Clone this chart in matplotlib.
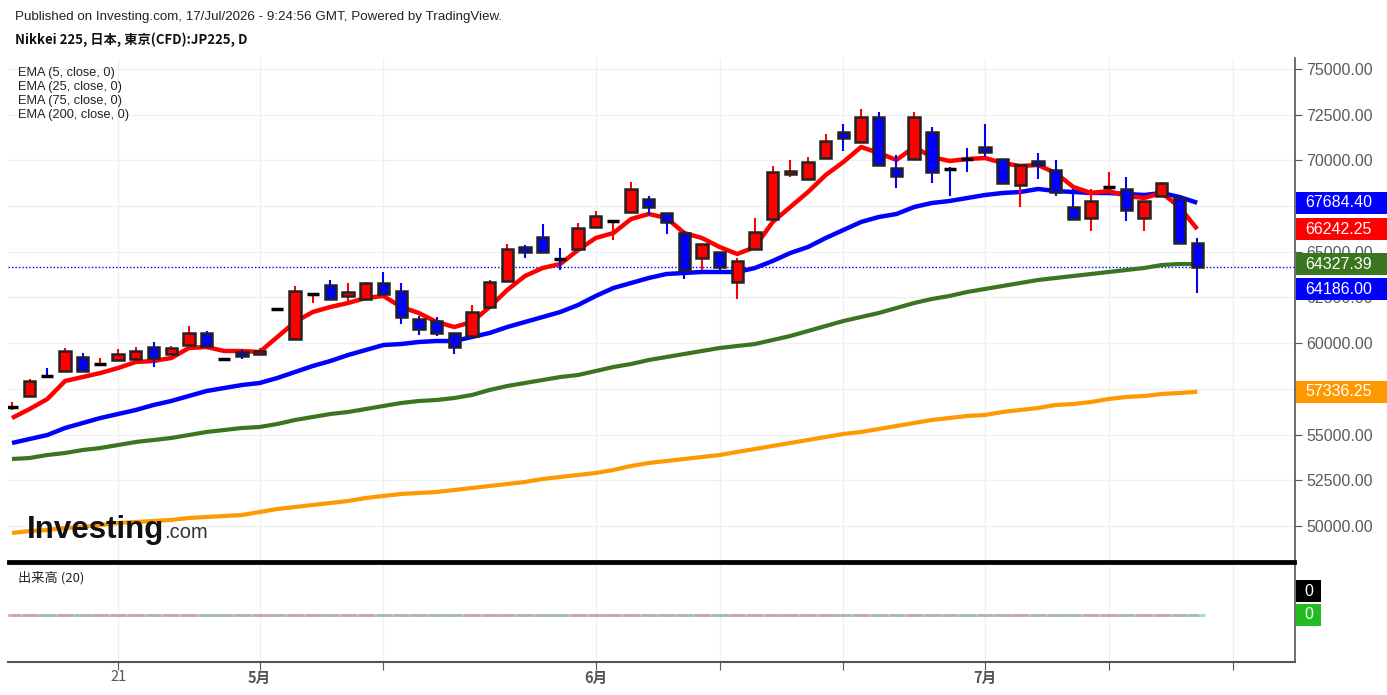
import matplotlib.pyplot as plt
import matplotlib.transforms as mtransforms
from matplotlib.patches import Rectangle

# daily OHLC (Nikkei 225 CFD, mid Apr - mid Jul)
opens = [56495, 57112, 58220, 58479, 59245, 58850, 59081, 59136, 59792, 59409,
         59902, 60558, 59140, 59518, 59409, 61880, 60230, 62680, 63185, 62582,
         62418, 63294, 62856, 61324, 61214, 60558, 60394, 61980, 63404, 65263,
         65810, 64620, 65154, 66357, 66675, 67177, 67889, 67123, 66029, 64661,
         64990, 63349, 65154, 66794, 69256, 68982, 70131, 71553, 71006, 72374,
         69584, 70077, 71553, 69540, 70085, 70733, 70077, 68655, 69967, 69475,
         67444, 66849, 68535, 68436, 66849, 68053, 67943, 65482]
highs = [56784, 58042, 58643, 59737, 59464, 59190, 59683, 59792, 60066, 59847,
         60941, 60668, 59160, 59628, 59737, 61925, 63130, 62746, 63458, 63294,
         63349, 63895, 63294, 61488, 61433, 60575, 62090, 63458, 65427, 65373,
         66521, 65208, 66576, 67232, 66710, 68818, 68053, 67135, 66138, 65440,
         65000, 64661, 66849, 69693, 70022, 70186, 71444, 71991, 72812, 72648,
         70295, 72648, 71827, 69639, 70678, 71991, 70090, 69760, 70405, 70022,
         68436, 68436, 69365, 69092, 67790, 68818, 68107, 65756]
lows = [56346, 57057, 58151, 58470, 58465, 58807, 59070, 59125, 58698, 59400,
        59890, 59835, 59110, 59136, 59400, 61850, 60220, 62199, 62410, 62254,
        62410, 62680, 61050, 60449, 60394, 59409, 60385, 61970, 63395, 64661,
        64980, 64005, 65145, 66302, 65646, 67170, 67013, 65974, 63513, 64005,
        64005, 62418, 65145, 66785, 69092, 68975, 70125, 70514, 71000, 69740,
        68490, 70070, 68764, 68053, 69365, 70186, 68755, 67444, 68982, 68053,
        66785, 66138, 68381, 66685, 66138, 68045, 65475, 62746]
closes = [56525, 57932, 58195, 59573, 58479, 58875, 59409, 59573, 59190, 59737,
          60558, 59847, 59130, 59300, 59573, 61860, 62856, 62700, 62418, 62801,
          63294, 62691, 61433, 60777, 60558, 59792, 61707, 63349, 65154, 64990,
          64990, 64595, 66302, 66959, 66695, 68436, 67451, 66630, 64005, 65427,
          64169, 64497, 66083, 69365, 69420, 69912, 71061, 71225, 72374, 69748,
          69146, 72374, 69365, 69520, 70070, 70460, 68764, 69748, 69748, 68272,
          66794, 67779, 68555, 67287, 67779, 68764, 65482, 64186]

ema5 = [55908, 56401, 56948, 57932, 58151, 58370, 58643, 58972, 59026, 59190,
        59737, 59792, 59573, 59573, 59519, 60339, 61160, 61707, 61980, 62199,
        62473, 62583, 61980, 61652, 61160, 60886, 61160, 61980, 62911, 63677,
        64114, 64333, 65099, 65755, 66029, 66795, 67068, 66849, 66029, 65755,
        65263, 64880, 65263, 66631, 67451, 68272, 69201, 69913, 70733, 70405,
        70022, 70733, 70186, 69967, 70077, 70131, 69858, 69694, 69748, 69311,
        68545, 68217, 68326, 68053, 67943, 68217, 67451, 66242.25]
ema25 = [54541, 54760, 54978, 55361, 55635, 55908, 56127, 56346, 56619, 56838,
         57112, 57385, 57549, 57713, 57823, 58096, 58425, 58753, 59026, 59354,
         59628, 59901, 59956, 60066, 60120, 60120, 60339, 60558, 60886, 61160,
         61433, 61707, 62089, 62583, 63020, 63294, 63567, 63786, 63841, 63896,
         63896, 63896, 64114, 64497, 64935, 65263, 65755, 66193, 66631, 66904,
         67068, 67451, 67670, 67779, 67943, 68107, 68217, 68272, 68436, 68326,
         68272, 68217, 68217, 68162, 68107, 68217, 67998, 67684.40]
ema75 = [53666, 53720, 53884, 53994, 54158, 54267, 54431, 54596, 54705, 54814,
         54978, 55143, 55252, 55361, 55416, 55580, 55799, 55963, 56127, 56237,
         56401, 56565, 56729, 56838, 56893, 57002, 57166, 57440, 57659, 57823,
         57987, 58151, 58260, 58479, 58698, 58862, 59081, 59245, 59409, 59573,
         59737, 59847, 59956, 60175, 60394, 60667, 60941, 61214, 61433, 61652,
         61925, 62199, 62419, 62583, 62802, 62966, 63130, 63294, 63458, 63567,
         63677, 63786, 63896, 64005, 64114, 64278, 64333, 64327.39]
ema200 = [49617, 49726, 49781, 49890, 49945, 50054, 50164, 50219, 50273, 50328,
          50437, 50492, 50547, 50601, 50766, 50930, 51039, 51149, 51258, 51367,
          51532, 51642, 51751, 51806, 51860, 51970, 52079, 52189, 52298, 52408,
          52572, 52681, 52791, 52900, 53064, 53283, 53447, 53556, 53666, 53775,
          53884, 54049, 54213, 54377, 54541, 54705, 54869, 55033, 55143, 55307,
          55471, 55635, 55799, 55908, 56018, 56072, 56237, 56346, 56455, 56619,
          56674, 56784, 56948, 57057, 57112, 57221, 57276, 57336.25]
volume = [0] * len(closes)

# x ticks (trading-day index) and labels
tick_idx = [6, 14, 21, 33, 40, 47, 55, 62, 69]
tick_lab = ['21', '5月', '', '6月', '', '', '7月', '', '']
price_ticks = [50000, 52500, 55000, 57500, 60000, 62500, 65000, 67500, 70000, 72500, 75000]
hidden_ticks = [67500]  # fully covered by the price tags

UP, DOWN = '#ff0000', '#0000ff'
EMA_COLS = ['#ff0000', '#0000ff', '#3a7520', '#ff9900']
GREY = '#555555'
CJK = ['Noto Sans CJK JP', 'DejaVu Sans']

W, H = 1387, 695
fig = plt.figure(figsize=(W / 100, H / 100), dpi=100)


def fx(px):
    return px / W


def fy(py):
    return 1 - py / H


ax = fig.add_axes([fx(8), fy(561), fx(1295) - fx(8), fy(58) - fy(561)])
vax = fig.add_axes([fx(8), fy(662), fx(1295) - fx(8), fy(563) - fy(662)])

xlim = (-0.226, 72.53)
ylim = (48085, 75602)
ax.set_xlim(*xlim)
ax.set_ylim(*ylim)
per_px = (ylim[1] - ylim[0]) / 503.0

# EMA lines
idx = list(range(len(closes)))
for vals, col, lw in zip([ema200, ema75, ema25, ema5], EMA_COLS[::-1], [3.0, 3.0, 3.2, 3.2]):
    ax.plot(idx, vals, color=col, lw=lw, solid_capstyle='butt', zorder=2)

# candles
for i in idx:
    o, h, l, c = opens[i], highs[i], lows[i], closes[i]
    col = UP if c >= o else DOWN
    ax.vlines(i, l, h, color=col, lw=1.5, zorder=3)
    if abs(c - o) < 110:
        ax.hlines((o + c) / 2, i - 0.34, i + 0.34, color='black', lw=2.5, zorder=4)
    else:
        ax.add_patch(Rectangle((i - 0.32, min(o, c)), 0.64, abs(c - o), facecolor=col,
                               edgecolor='#222222', lw=1.8, zorder=4))

# last price dotted line
ax.axhline(closes[-1], color='#0000ff', ls=(0, (1, 1.5)), lw=1, zorder=1.5)

# axes style
ax.set_xticks(tick_idx)
ax.tick_params(axis='x', length=0, labelbottom=False)
ax.yaxis.tick_right()
ax.set_yticks(price_ticks)
ax.set_yticklabels(['' if v in hidden_ticks else '%.2f' % v for v in price_ticks])
ax.tick_params(axis='y', length=5, color=GREY, labelcolor='#5a5a5a', labelsize=11.5, pad=3)
for lab in ax.get_yticklabels():
    lab.set_family('Liberation Sans')
ax.grid(True, color='#f0f0f0', lw=1)
ax.set_axisbelow(True)
for s in ['top', 'left']:
    ax.spines[s].set_visible(False)
ax.spines['right'].set_color(GREY)
ax.spines['right'].set_linewidth(1.2)
ax.spines['bottom'].set_color('black')
ax.spines['bottom'].set_linewidth(2)

# price tags on the right
blend = mtransforms.blended_transform_factory(fig.transFigure, ax.transData)
half = 11 * per_px


def tag(center, text, col):
    r = Rectangle((fx(1296), center - half), 1 - fx(1296), 2 * half, transform=blend,
                  facecolor=col, edgecolor='none', zorder=10, clip_on=False)
    fig.add_artist(r)
    fig.text(fx(1305), center, text, transform=blend, color='white', fontsize=11.5,
             family='Liberation Sans', va='center', ha='left', zorder=11)


tag(ema200[-1], '%.2f' % ema200[-1], EMA_COLS[3])
tag(ema25[-1], '%.2f' % ema25[-1], EMA_COLS[1])
tag(ema5[-1], '%.2f' % ema5[-1], EMA_COLS[0])
tag(ema75[-1], '%.2f' % ema75[-1], EMA_COLS[2])
tag(ema75[-1] - 25 * per_px, '%.2f' % closes[-1], DOWN)

# volume panel
vax.set_xlim(*xlim)
vax.set_ylim(-0.475, 0.525)
vol_cols = ['#f4a6a6' if closes[i] >= opens[i] else '#a6dca6' for i in idx]
vax.bar(idx, volume, width=0.9, color=vol_cols, edgecolor=vol_cols, lw=2, zorder=2)
vax.plot(idx, volume, color='#aaaaaa', lw=2, alpha=0.7, zorder=3)
vax.set_xticks(tick_idx)
vax.set_xticklabels(tick_lab)
vax.set_yticks([])
vax.tick_params(axis='x', length=6, color=GREY, labelcolor=GREY, pad=0)
for lab in vax.get_xticklabels():
    lab.set_family(CJK)
    lab.set_fontsize(10.5)
    if lab.get_text() != '21':
        lab.set_fontweight('bold')
vax.grid(True, axis='x', color='#f0f0f0', lw=1)
vax.set_axisbelow(True)
vax.spines['left'].set_visible(False)
vax.spines['top'].set_color('black')
vax.spines['top'].set_linewidth(2)
vax.spines['right'].set_color(GREY)
vax.spines['right'].set_linewidth(1.2)
vax.spines['bottom'].set_color(GREY)
vax.spines['bottom'].set_linewidth(1.5)
vax.text(0.008, 0.85, '出来高 (20)', transform=vax.transAxes, family=CJK, fontsize=9.5,
         color='#222222', va='center')

vblend = mtransforms.blended_transform_factory(fig.transFigure, vax.transData)
vper_px = 1.0 / 99
for yc, col in [(0.24, 'black'), (0.0, '#22bb22')]:
    fig.add_artist(Rectangle((fx(1296), yc - 11 * vper_px), fx(1321) - fx(1296), 22 * vper_px,
                             transform=vblend, facecolor=col, edgecolor='none', zorder=10))
    fig.text(fx(1309), yc, '0', transform=vblend, color='white', fontsize=11.5,
             family='Liberation Sans', ha='center', va='center', zorder=11)

# header and legend
fig.text(fx(15), fy(17), 'Published on Investing.com, 17/Jul/2026 - 9:24:56 GMT, Powered by TradingView.',
         family='Liberation Sans', fontsize=9.6, color='#222222', va='center')
fig.text(fx(15), fy(40), 'Nikkei 225, 日本, 東京(CFD):JP225, D', family=CJK, fontsize=9.5,
         fontweight='bold', color='#111111', va='center')
for k, s in enumerate(['EMA (5, close, 0)', 'EMA (25, close, 0)', 'EMA (75, close, 0)', 'EMA (200, close, 0)']):
    fig.text(fx(18), fy(73 + 14 * k), s, family='Liberation Sans',
             fontsize=9.2, color='#222222', va='center')

# watermark logo
fig.text(fx(27), fy(538), 'Investing', family='Liberation Sans', fontweight='bold', fontsize=22.5,
         color='#111111', va='baseline', zorder=20)
fig.text(fx(164), fy(538), '.com', family='Liberation Sans', fontsize=14.5, color='#333333',
         va='baseline', zorder=20)

fig.savefig('out.png', dpi=100)
